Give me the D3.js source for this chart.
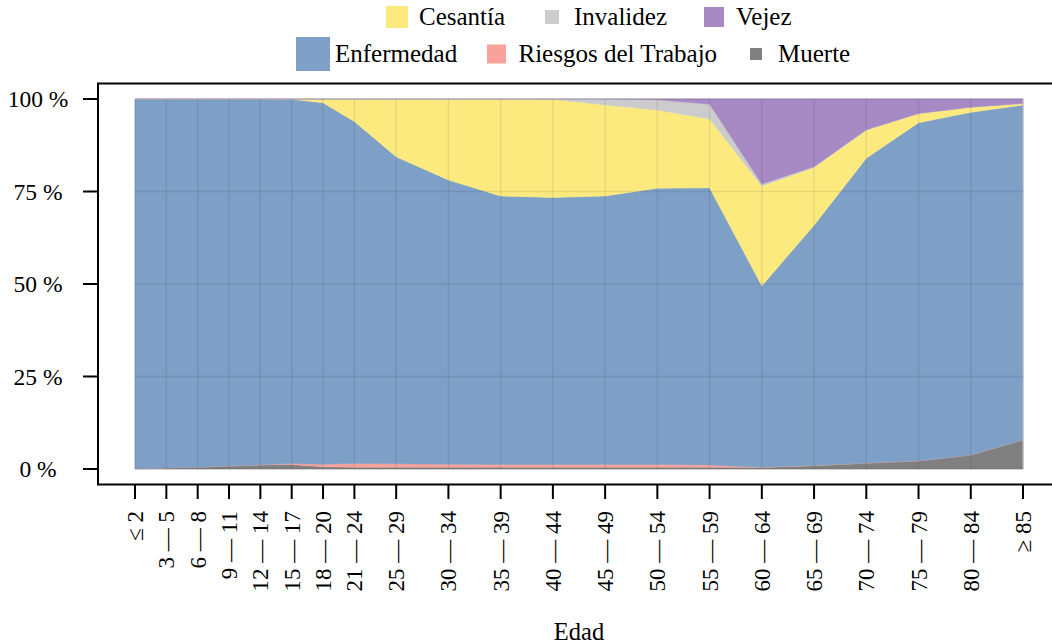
<!DOCTYPE html>
<html>
<head>
<meta charset="utf-8">
<script src="https://cdn.jsdelivr.net/npm/d3@7"></script>
<style>
  html, body { margin: 0; padding: 0; background: #fff; }
  svg { display: block; }
  text { font-family: "Liberation Serif", "DejaVu Serif", serif; fill: #000; }
</style>
</head>
<body>
<svg id="chart" width="1052" height="644"></svg>
<script>
// ---- Data ----
const categories = ["≤ 2", "3 — 5", "6 — 8", "9 — 11", "12 — 14", "15 — 17", "18 — 20", "21 — 24",
  "25 — 29", "30 — 34", "35 — 39", "40 — 44", "45 — 49", "50 — 54", "55 — 59", "60 — 64",
  "65 — 69", "70 — 74", "75 — 79", "80 — 84", "≥ 85"];
// lower bound of each age group (x position)
const ageStart = [0, 3, 6, 9, 12, 15, 18, 21, 25, 30, 35, 40, 45, 50, 55, 60, 65, 70, 75, 80, 85];

const muerte     = [0.1, 0.3, 0.5, 0.8, 1.1, 1.2, 0.6, 0.5, 0.5, 0.5, 0.5, 0.5, 0.5, 0.5, 0.5, 0.4, 0.9, 1.6, 2.2, 3.8, 7.9];
const riesgos    = [0, 0, 0, 0, 0.05, 0.3, 0.7, 1.0, 0.9, 0.8, 0.7, 0.7, 0.7, 0.7, 0.6, 0.1, 0.05, 0.02, 0, 0, 0];
const enfermedad = [99.9, 99.7, 99.5, 99.2, 98.85, 98.4, 97.7, 92.4, 83.0, 76.8, 72.6, 72.2, 72.6, 74.7, 74.9, 49.0, 64.95, 82.4, 91.4, 92.6, 90.5];
const cesantia   = [0, 0, 0, 0, 0, 0.1, 1.0, 6.1, 15.6, 21.9, 26.2, 26.5, 24.6, 21.1, 18.6, 27.0, 15.6, 7.6, 2.5, 1.4, 0.4];
const invalidez  = [0, 0, 0, 0, 0, 0, 0, 0, 0, 0, 0, 0.1, 1.6, 2.8, 4.0, 0.5, 0.2, 0.05, 0, 0, 0];
const vejez      = [0, 0, 0, 0, 0, 0, 0, 0, 0, 0, 0, 0, 0, 0.2, 1.4, 23.0, 18.3, 8.35, 3.9, 2.2, 1.2];

const seriesNames = ["Muerte", "Riesgos del Trabajo", "Enfermedad", "Cesantía", "Invalidez", "Vejez"];
const seriesValues = [muerte, riesgos, enfermedad, cesantia, invalidez, vejez];
const yTicks = [0, 25, 50, 75, 100];
const yTickLabels = ["0 %", "25 %", "50 %", "75 %", "100 %"];
const xTitle = "Edad";

// ---- Styles ----
const colors = {
  "Muerte": "#808080",
  "Riesgos del Trabajo": "#f9a29c",
  "Enfermedad": "#7ea0c6",
  "Cesantía": "#fdea7e",
  "Invalidez": "#cccccc",
  "Vejez": "#a78ac3"
};
const legendLayout = [
  { key: "Cesantía", cx: 397, cy: 17, size: 22 },
  { key: "Invalidez", cx: 552, cy: 17, size: 14 },
  { key: "Vejez", cx: 714, cy: 17, size: 20 },
  { key: "Enfermedad", cx: 313, cy: 54, size: 34 },
  { key: "Riesgos del Trabajo", cx: 496.5, cy: 54, size: 19 },
  { key: "Muerte", cx: 756, cy: 54, size: 12 }
];

// ---- Build table ----
const table = categories.map((c, i) => {
  const row = { cat: c, age: ageStart[i] };
  seriesNames.forEach((s, j) => row[s] = seriesValues[j][i]);
  return row;
});

const svg = d3.select("#chart");
const x = d3.scaleLinear().domain([0, 85]).range([135, 1023]);
const y = d3.scaleLinear().domain([0, 100]).range([469, 99]);

const stack = d3.stack().keys(seriesNames);
const layers = stack(table);

const area = d3.area()
  .x(d => x(d.data.age))
  .y0(d => y(d[0]))
  .y1(d => y(d[1]));

svg.append("g").selectAll("path")
  .data(layers)
  .join("path")
  .attr("d", area)
  .attr("fill", d => colors[d.key])
  .attr("stroke", d => colors[d.key])
  .attr("stroke-width", 0.5);

// light border at top/right of plotted region
svg.append("path")
  .attr("d", d3.line()([[x(0), y(100) - 0.5], [x(85), y(100) - 0.5], [x(85), y(0)]]))
  .attr("fill", "none")
  .attr("stroke", "#cfcbd8")
  .attr("stroke-width", 1);

// grid on top
const grid = svg.append("g").attr("stroke", "#000").attr("stroke-opacity", 0.08).attr("stroke-width", 1.5);
grid.selectAll("line.v").data(ageStart).join("line")
  .attr("x1", d => x(d)).attr("x2", d => x(d))
  .attr("y1", y(100)).attr("y2", y(0));
grid.selectAll("line.h").data(yTicks).join("line")
  .attr("x1", x(0)).attr("x2", x(85))
  .attr("y1", d => y(d)).attr("y2", d => y(d));

// frame
const frame = svg.append("g").attr("stroke", "#000").attr("stroke-width", 2).attr("fill", "none");
frame.append("path").attr("d", "M1060,83.5 H98 V484.5 H1060");

// y axis ticks
const yAx = svg.append("g");
yAx.selectAll("line").data(yTicks).join("line")
  .attr("x1", 83).attr("x2", 98)
  .attr("y1", d => y(d)).attr("y2", d => y(d))
  .attr("stroke", "#000").attr("stroke-width", 2);
yAx.selectAll("text").data(yTicks).join("text")
  .attr("x", 38).attr("y", d => y(d) + 8)
  .attr("text-anchor", "middle")
  .attr("font-size", 23.5)
  .text((d, i) => yTickLabels[i]);

// x axis ticks
const xAx = svg.append("g");
xAx.selectAll("line").data(ageStart).join("line")
  .attr("x1", d => x(d)).attr("x2", d => x(d))
  .attr("y1", 484.5).attr("y2", 499)
  .attr("stroke", "#000").attr("stroke-width", 2);
xAx.selectAll("text").data(table).join("text")
  .attr("transform", d => `translate(${x(d.age)},511) rotate(-90)`)
  .attr("text-anchor", "end")
  .attr("dy", "0.35em")
  .attr("font-size", 23)
  .text(d => d.cat);

svg.append("text")
  .attr("x", (x(0) + x(85)) / 2).attr("y", 640)
  .attr("text-anchor", "middle")
  .attr("font-size", 24.5)
  .text(xTitle);

// legend
const lg = svg.append("g");
legendLayout.forEach(it => {
  lg.append("rect")
    .attr("x", it.cx - it.size / 2).attr("y", it.cy - it.size / 2)
    .attr("width", it.size).attr("height", it.size)
    .attr("fill", colors[it.key]);
  lg.append("text")
    .attr("x", it.cx + 22).attr("y", it.cy + 8)
    .attr("font-size", 25)
    .text(it.key);
});
</script>
</body>
</html>
